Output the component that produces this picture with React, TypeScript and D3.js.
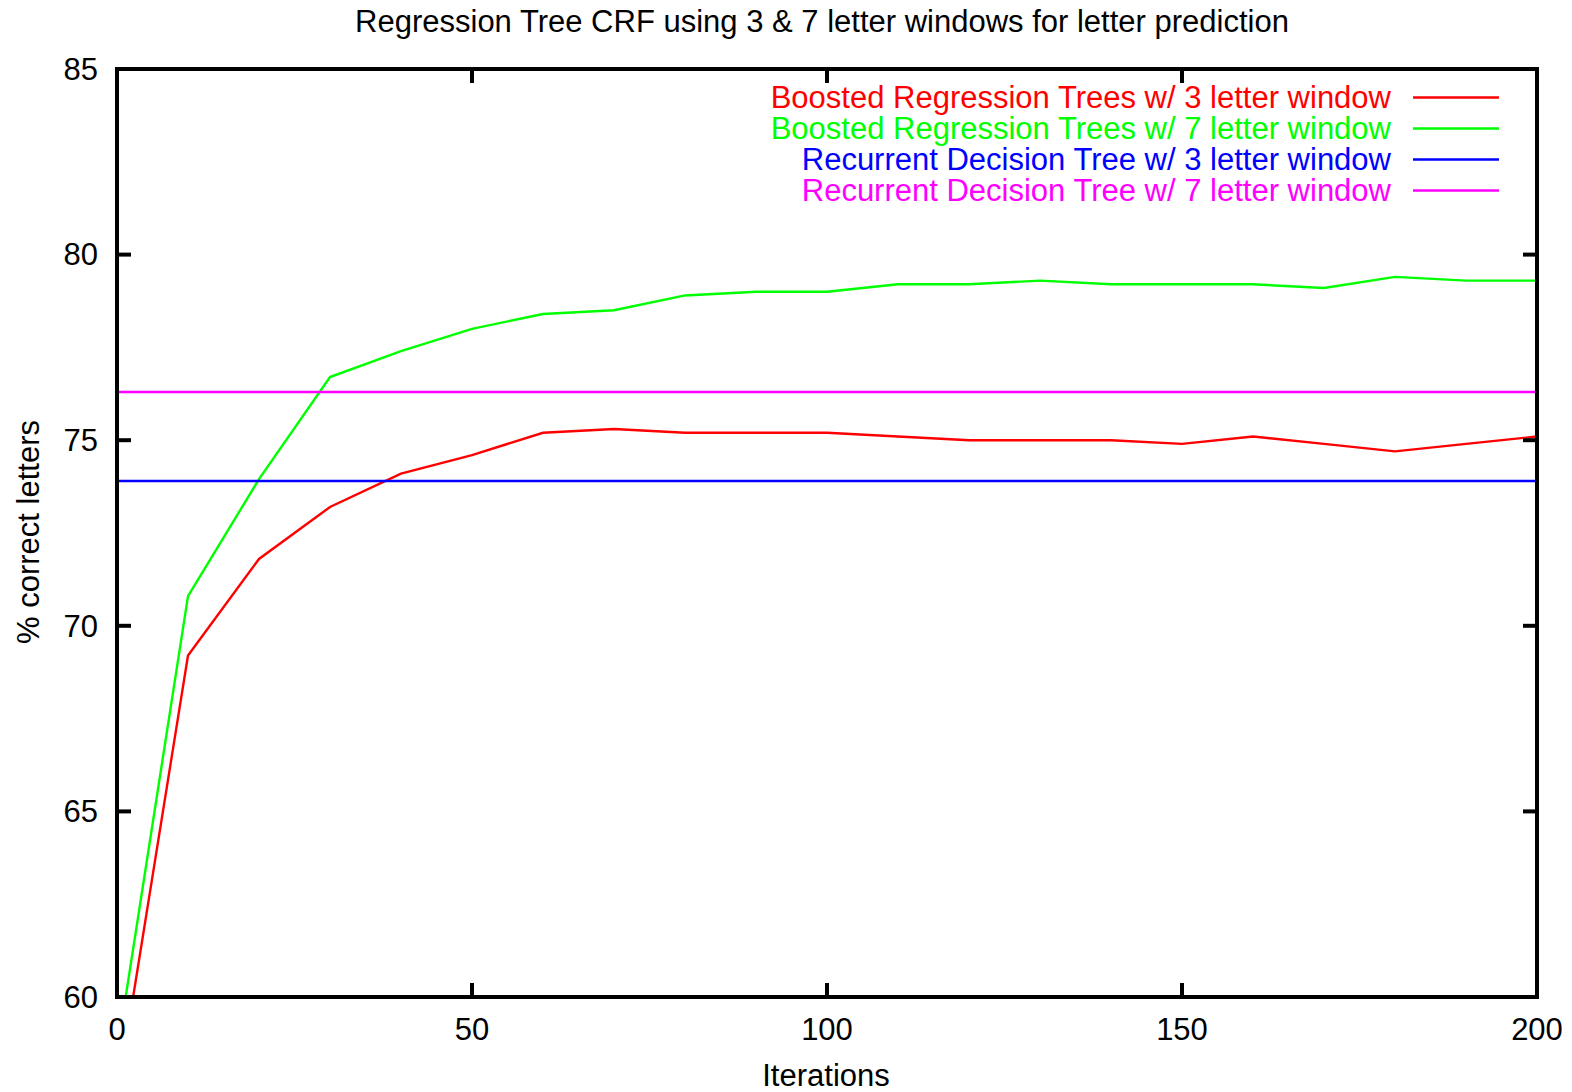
import React from 'react';
import * as d3 from 'd3';

// values
const iterations = [0, 10, 20, 30, 40, 50, 60, 70, 80, 90, 100, 110, 120, 130, 140, 150, 160, 170, 180, 190, 200];
const boosted3 = [57.3, 69.2, 71.8, 73.2, 74.1, 74.6, 75.2, 75.3, 75.2, 75.2, 75.2, 75.1, 75.0, 75.0, 75.0, 74.9, 75.1, 74.9, 74.7, 74.9, 75.1];
const boosted7 = [58.5, 70.8, 73.95, 76.7, 77.4, 78.0, 78.4, 78.5, 78.9, 79.0, 79.0, 79.2, 79.2, 79.3, 79.2, 79.2, 79.2, 79.1, 79.4, 79.3, 79.3];
const recurrent3 = 73.9;
const recurrent7 = 76.3;
const xTicks = [0, 50, 100, 150, 200];
const yTicks = [60, 65, 70, 75, 80, 85];

const series = [
  { name: 'Boosted Regression Trees w/ 3 letter window', color: '#ff0000', values: boosted3 },
  { name: 'Boosted Regression Trees w/ 7 letter window', color: '#00ff00', values: boosted7 },
  { name: 'Recurrent Decision Tree w/ 3 letter window', color: '#0000ff', values: iterations.map(() => recurrent3) },
  { name: 'Recurrent Decision Tree w/ 7 letter window', color: '#ff00ff', values: iterations.map(() => recurrent7) },
];

const W = 1572;
const H = 1092;
const font = '"Liberation Sans", Arial, Helvetica, sans-serif';
const fs = 31;

const App = () => {
  const x = d3.scaleLinear().domain([0, 200]).range([117, 1537]);
  const y = d3.scaleLinear().domain([60, 85]).range([997, 69]);
  const [x0, x1] = x.range();
  const [y0, y1] = y.range();
  const tickLen = 14;

  const line = (vals: number[]) =>
    d3.line<number>()
      .x((_, i) => x(iterations[i]))
      .y(d => y(d))(vals) || '';

  return (
    <svg width={W} height={H} style={{ position: 'absolute', left: 0, top: 0, background: '#fff' }}
      fontFamily={font} fontSize={fs}>
      <defs>
        <clipPath id="plot">
          <rect x={x0} y={y1} width={x1 - x0} height={y0 - y1} />
        </clipPath>
      </defs>

      <text x={822} y={32} textAnchor="middle">Regression Tree CRF using 3 &amp; 7 letter windows for letter prediction</text>

      {/* data */}
      <g clipPath="url(#plot)" fill="none" strokeWidth={2.4}>
        {series.map(s => (
          <path key={s.name} d={line(s.values)} stroke={s.color} />
        ))}
      </g>

      {/* ticks, mirrored on all sides */}
      <g stroke="#000" strokeWidth={4}>
        {yTicks.map(t => (
          <g key={'y' + t}>
            <line x1={x0} x2={x0 + tickLen} y1={y(t)} y2={y(t)} />
            <line x1={x1} x2={x1 - tickLen} y1={y(t)} y2={y(t)} />
          </g>
        ))}
        {xTicks.map(t => (
          <g key={'x' + t}>
            <line x1={x(t)} x2={x(t)} y1={y0} y2={y0 - tickLen} />
            <line x1={x(t)} x2={x(t)} y1={y1} y2={y1 + tickLen} />
          </g>
        ))}
        <rect x={x0} y={y1} width={x1 - x0} height={y0 - y1} fill="none" />
      </g>

      {yTicks.map(t => (
        <text key={'yl' + t} x={98} y={y(t)} dy="0.35em" textAnchor="end">{t}</text>
      ))}
      {xTicks.map(t => (
        <text key={'xl' + t} x={x(t)} y={1040} textAnchor="middle">{t}</text>
      ))}

      <text x={826} y={1086} textAnchor="middle">Iterations</text>
      <text transform="translate(28,532) rotate(-90)" dy="0.35em" textAnchor="middle">% correct letters</text>

      {/* legend */}
      {series.map((s, i) => {
        const ly = 97.5 + i * 31;
        return (
          <g key={'lg' + i}>
            <text x={1391} y={ly} dy="0.35em" textAnchor="end" fill={s.color}>{s.name}</text>
            <line x1={1413} x2={1499} y1={ly} y2={ly} stroke={s.color} strokeWidth={2.4} />
          </g>
        );
      })}
    </svg>
  );
};

export default App;
